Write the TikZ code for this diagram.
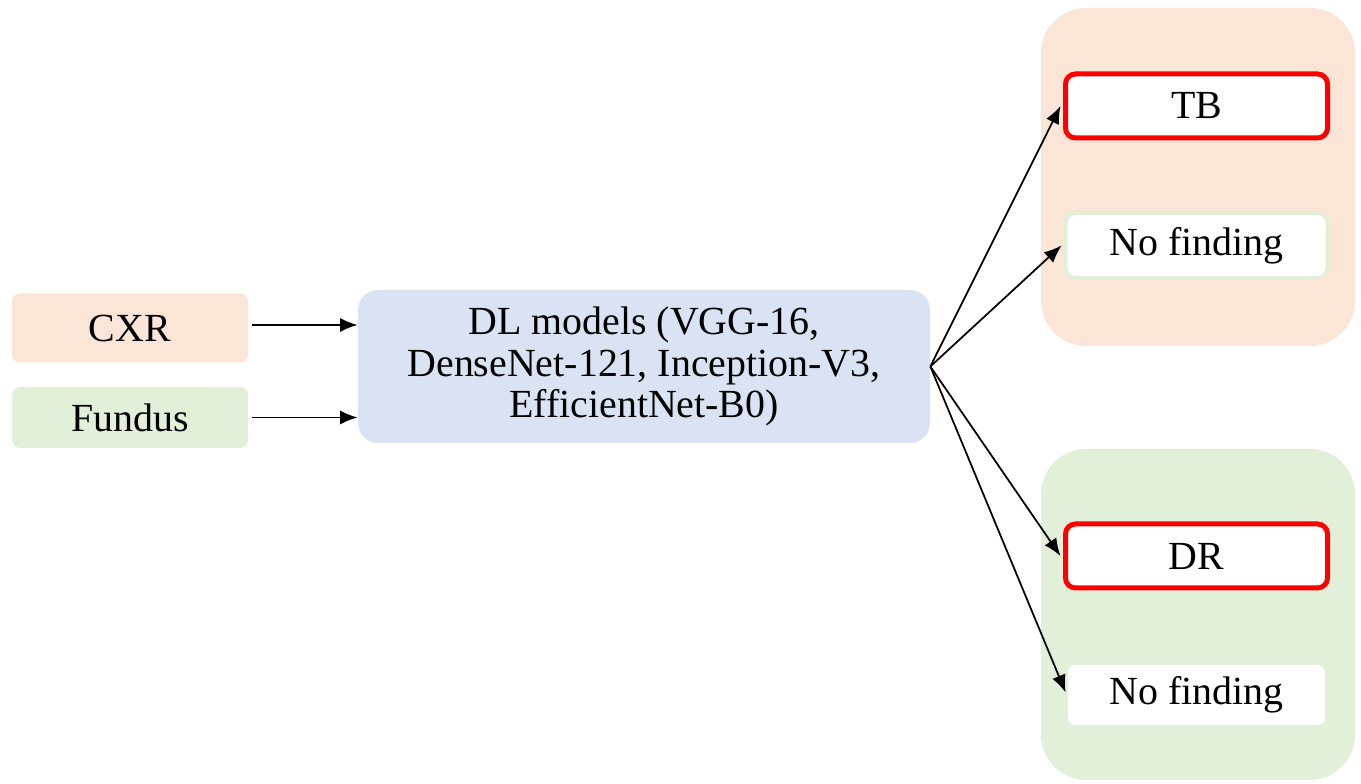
\documentclass[tikz,border=0pt]{standalone}
\usepackage{fontspec}
\setmainfont{Liberation Serif}
\usepackage{xcolor}
\usetikzlibrary{arrows.meta,positioning,calc}
\definecolor{peach}{HTML}{FBE5D6}
\definecolor{mint}{HTML}{E2F0D9}
\definecolor{paleblue}{HTML}{DAE3F3}
\definecolor{hotred}{HTML}{FF0000}

\begin{document}
\begin{tikzpicture}[>={Latex[length=10pt,width=8pt]},
		txt/.style={font=\fontsize{22.7}{23.6}\selectfont, align=center, inner sep=0pt},
		inbox/.style={txt, rounded corners=0.16cm, minimum width=4.72cm},
		group/.style={rounded corners=0.9cm, minimum width=6.28cm},
		outbox/.style={txt, fill=white, rounded corners=0.2cm, minimum width=5.24cm, minimum height=1.28cm},
		link/.style={->, line width=1pt}]
		\useasboundingbox (0,0) rectangle (27.22,15.68);
		
		%coordinates
		\coordinate (CXRc)    at (2.6,9.12);
		\coordinate (Fundc)   at (2.6,7.33);
		\coordinate (DLc)     at (12.88,8.35);
		\coordinate (TBgrp)   at (23.96,12.14);
		\coordinate (DRgrp)   at (23.96,3.39);
		\coordinate (TBc)     at (23.93,13.56);
		\coordinate (NoTBc)   at (23.93,10.77);
		\coordinate (DRc)     at (23.93,4.56);
		\coordinate (NoDRc)   at (23.93,1.78);
		
		%nodes
		\node[inbox, fill=peach, minimum height=1.38cm] (CXR) at (CXRc) {CXR};
		\node[inbox, fill=mint, minimum height=1.22cm] (Fund) at (Fundc) {Fundus};
		\node[txt, fill=paleblue, rounded corners=0.4cm, minimum width=11.44cm, minimum height=3.06cm] (DL) at (DLc) {DL models (VGG-16,\\ DenseNet-121, Inception-V3,\\ EfficientNet-B0)};
		
		\node[group, fill=peach, minimum height=6.76cm] (TBbox) at (TBgrp) {};
		\node[group, fill=mint, minimum height=6.62cm] (DRbox) at (DRgrp) {};
		
		\node[outbox, draw=hotred, line width=0.1cm] (TB) at (TBc) {TB};
		\node[outbox, draw=mint, line width=0.08cm, minimum height=1.3cm] (NoTB) at (NoTBc) {No finding};
		\node[outbox, draw=hotred, line width=0.1cm] (DR) at (DRc) {DR};
		\node[outbox, minimum width=5.14cm, minimum height=1.2cm, rounded corners=0.14cm] (NoDR) at (NoDRc) {No finding};
		
		%arrows
		\draw[link, shorten <=0.08cm] ($(CXR.east)+(0,0.06)$) -- ($(CXR.east -| DL.west)+(0,0.06)$);
		\draw[link, shorten <=0.08cm] (Fund.east) -- (Fund.east -| DL.west);
		\draw[link] (DL.east) -- ($(TB.west)+(-0.05,0)$);
		\draw[link] (DL.east) -- ($(NoTB.west)+(-0.04,0)$);
		\draw[link] (DL.east) -- ($(DR.west)+(-0.05,0)$);
		\draw[link] (DL.east) -- ($(NoDR.west)+(-0.04,0.05)$);
\end{tikzpicture}
\end{document}
